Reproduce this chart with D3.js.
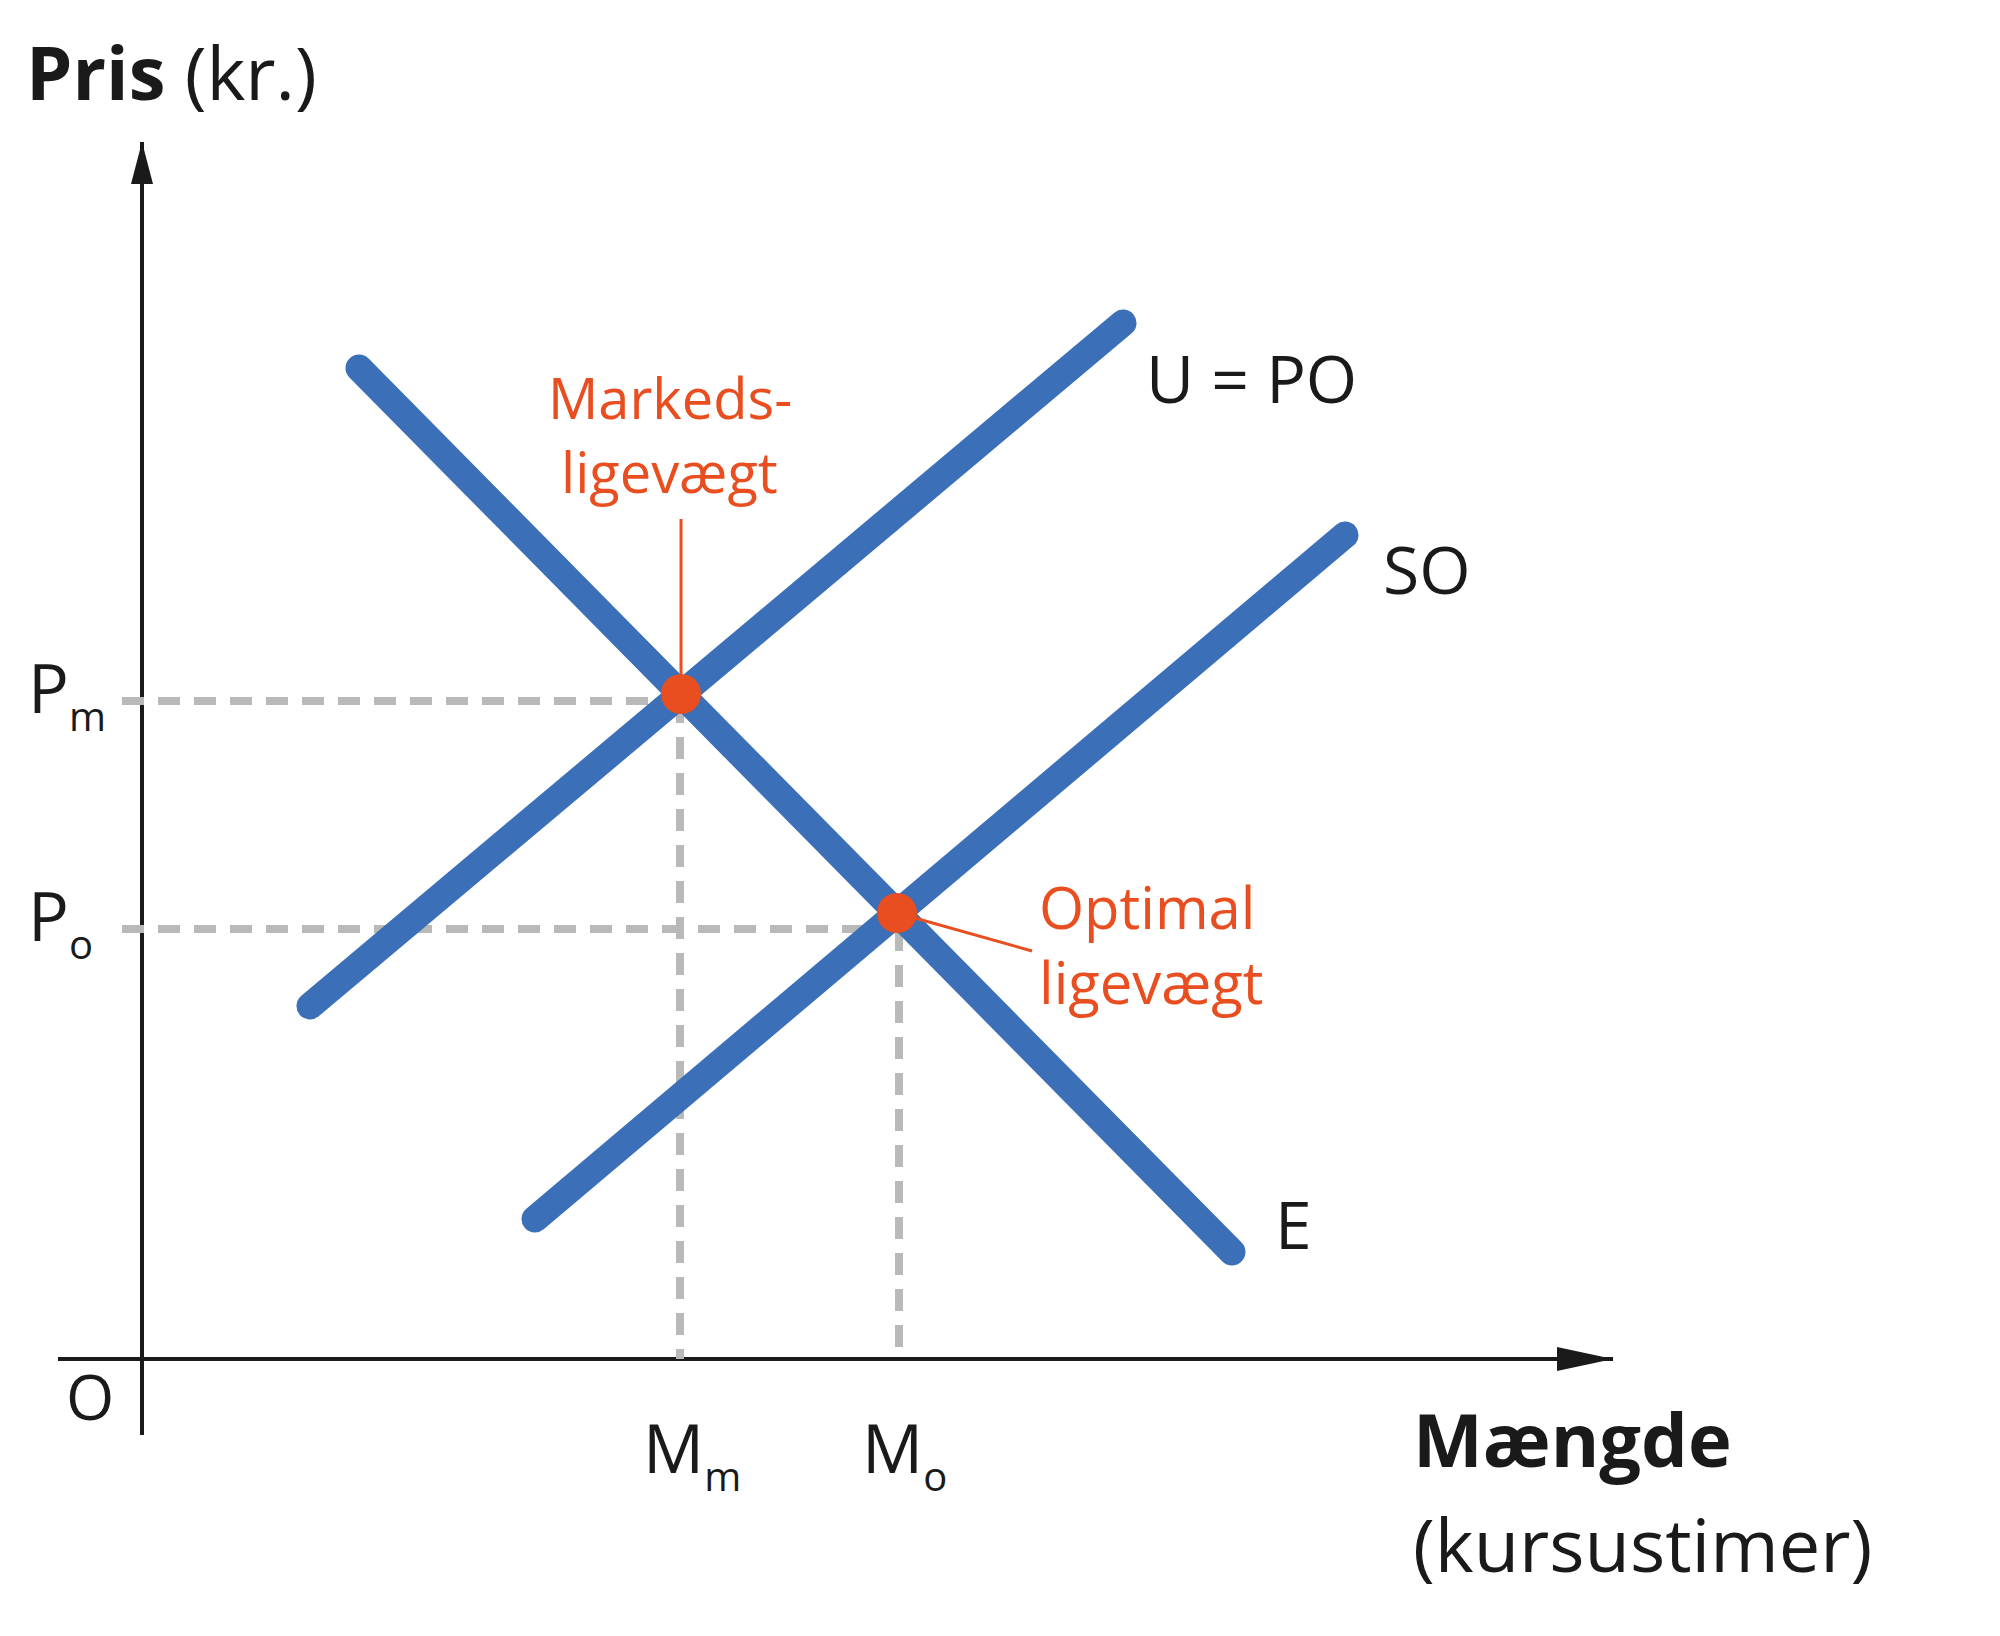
<!DOCTYPE html>
<html><head><meta charset="utf-8">
<script src="https://cdn.jsdelivr.net/npm/d3@7"></script>
<style>body{margin:0;background:#fff}svg{display:block}text{font-family:"Open Sans",sans-serif}</style>
</head><body>
<svg id="c" width="2000" height="1636"></svg>
<script>
const curveNames = ["E","U = PO","SO"];
const curveE   = [[217,991],[1090,107]];
const curveUPO = [[168,353],[981,1036]];
const curveSO  = [[393,140],[1203,824]];
const eqPoints = [[539,665],[755,446]];
const pLevels = [658,430];
const mLevels = [538,757];
const pLabels = [["P","m"],["P","o"]];
const mLabels = [["M","m"],["M","o"]];

const svg = d3.select("#c");
const x = d3.scaleLinear().domain([0,1000]).range([142,1142]);
const y = d3.scaleLinear().domain([0,1000]).range([1359,359]);
const blue="#3b70b8", orange="#e84e1f", gray="#b9b9b9";

// axes
svg.append("line").attr("x1",x(0)).attr("y1",y(-76)).attr("x2",x(0)).attr("y2",y(1217)).attr("stroke","#1a1a1a").attr("stroke-width",4);
svg.append("path").attr("d",`M${x(0)-11},${y(1175)} L${x(0)},${y(1217)} L${x(0)+11},${y(1175)} Z`).attr("fill","#1a1a1a");
svg.append("line").attr("x1",x(-84)).attr("y1",y(0)).attr("x2",x(1471)).attr("y2",y(0)).attr("stroke","#1a1a1a").attr("stroke-width",4);
svg.append("path").attr("d",`M${x(1415)},${y(0)-12} L${x(1471)},${y(0)} L${x(1415)},${y(0)+12} Z`).attr("fill","#1a1a1a");

// dashed guides
const dash = {stroke:gray,"stroke-width":8,"stroke-dasharray":"22,14"};
pLevels.forEach((p,i)=>{
  const l=svg.append("line").attr("x1",x(-20)).attr("y1",y(p)).attr("x2",x(mLevels[i])).attr("y2",y(p));
  Object.entries(dash).forEach(([k,v])=>l.attr(k,v));
  const v=svg.append("line").attr("x1",x(mLevels[i])).attr("y1",y(p)).attr("x2",x(mLevels[i])).attr("y2",y(0));
  Object.entries(dash).forEach(([k,vv])=>v.attr(k,vv));
});

// curves
const line=d3.line().x(d=>x(d[0])).y(d=>y(d[1]));
[curveE,curveUPO,curveSO].forEach(c=>{
  svg.append("path").attr("d",line(c)).attr("stroke",blue).attr("stroke-width",27).attr("stroke-linecap","round").attr("fill","none");
});

// leaders
svg.append("line").attr("x1",x(539)).attr("y1",y(840)).attr("x2",x(539)).attr("y2",y(eqPoints[0][1])).attr("stroke",orange).attr("stroke-width",3);
svg.append("line").attr("x1",x(eqPoints[1][0])).attr("y1",y(eqPoints[1][1])).attr("x2",x(890)).attr("y2",y(408)).attr("stroke",orange).attr("stroke-width",3);
eqPoints.forEach(p=>svg.append("circle").attr("cx",x(p[0])).attr("cy",y(p[1])).attr("r",20).attr("fill",orange));

// text
function t(xx,yy,s,o={}){return svg.append("text").attr("x",xx).attr("y",yy).attr("font-size",o.size||60)
  .attr("font-weight",o.bold?700:400).attr("fill",o.fill||"#1a1a1a").text(s);}
const pt=svg.append("text").attr("x",26).attr("y",100).attr("font-size",74).attr("fill","#1a1a1a");
pt.append("tspan").attr("font-weight",700).text("Pris");
pt.append("tspan").attr("font-weight",400).text(" (kr.)");
pLabels.forEach((l,i)=>{
  const tx=svg.append("text").attr("x",28).attr("y",y(pLevels[i])+12).attr("font-size",68).attr("fill","#1a1a1a");
  tx.append("tspan").text(l[0]);
  tx.append("tspan").attr("font-size",40).attr("dy",18).text(l[1]);
});
mLabels.forEach((l,i)=>{
  const tx=svg.append("text").attr("x",x(mLevels[i])-37).attr("y",1473).attr("font-size",68).attr("fill","#1a1a1a");
  tx.append("tspan").text(l[0]);
  tx.append("tspan").attr("font-size",40).attr("dy",18).text(l[1]);
});
t(66,1420,"O",{size:62});
t(1413,1467,"Mængde",{size:74,bold:true});
t(1413,1572,"(kursustimer)",{size:74});
t(1146,403,curveNames[1],{size:66});
t(1383,594,curveNames[2],{size:66});
t(1275,1249,curveNames[0],{size:66});
t(548,419,"Markeds-",{size:56,fill:orange});
t(561,493,"ligevægt",{size:56,fill:orange});
t(1039,929,"Optimal",{size:58,fill:orange});
t(1039,1004,"ligevægt",{size:58,fill:orange});
</script></body></html>
